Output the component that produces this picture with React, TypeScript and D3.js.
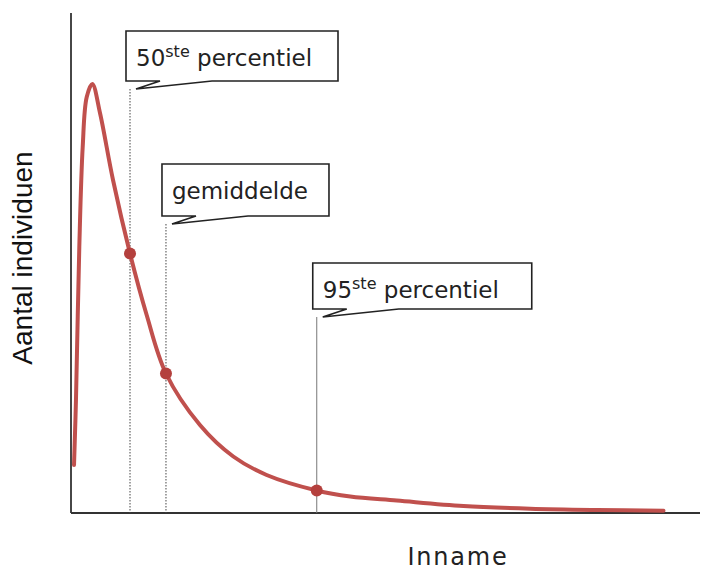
import * as d3 from 'd3';

const W = 702;
const H = 571;

// curve (arbitrary units)
const inname = [0.48, 0.79, 1.32, 1.86, 2.5, 3.39, 4.61, 6.68, 9.38, 12.03, 15.1, 20.5, 25.8, 31.1, 39.07, 44.4, 51.8, 62.4, 73, 83.6, 94.2];
const aantal = [9.6, 22.6, 53.2, 73.2, 83.2, 85.8, 80, 66.6, 51.9, 39.6, 27.9, 17.6, 11.3, 7.6, 4.5, 3.3, 2.5, 1.4, 0.86, 0.6, 0.46];

// the three marked points: 50ste percentiel, gemiddelde, 95ste percentiel
const markInname = [9.38, 15.1, 39.07];
const markAantal = [51.9, 27.9, 4.5];
const markMain = ['50', 'gemiddelde', '95'];
const markSup = ['ste', '', 'ste'];
const markRest = [' percentiel', '', ' percentiel'];

// callout layout (pixels)
const tipY = [89, 224, 317];
const boxW = [212, 167, 219];
const boxH = [50, 52, 46];
const lineDash = ['1.5 1.5', '1.5 1.5', null];

const CURVE = '#c0504d';

export default function App() {
  const x = d3.scaleLinear().domain([0, 100]).range([71, 700]);
  const y = d3.scaleLinear().domain([0, 100]).range([513, 13]);

  const pts = inname.map((d, i) => [d, aantal[i]] as [number, number]);
  const line = d3
    .line<[number, number]>()
    .x((d) => x(d[0]))
    .y((d) => y(d[1]))
    .curve(d3.curveCatmullRom.alpha(0.5));

  const callouts = markInname.map((v, i) => {
    const lx = x(v);
    const tx = lx + 6;
    const ty = tipY[i];
    const left = tx - 10;
    const bottom = ty - 8;
    const top = bottom - boxH[i];
    const right = left + boxW[i];
    const t0 = left + 34;
    const t1 = left + 86;
    const d = `M${left},${top}H${right}V${bottom}H${t1}L${tx},${ty}L${t0},${bottom}H${left}Z`;
    const baseline = top + 35;
    return (
      <g key={i}>
        <line
          x1={lx}
          x2={lx}
          y1={ty}
          y2={y(0)}
          stroke={lineDash[i] ? '#444' : '#777'}
          strokeWidth={1}
          strokeDasharray={lineDash[i] ?? undefined}
        />
        <path d={d} fill="#fff" stroke="#222" strokeWidth={1.6} strokeLinejoin="miter" />
        <text
          x={left + 10}
          y={baseline}
          fontFamily="'DejaVu Sans', Verdana, sans-serif"
          fontSize={23}
          fill="#222"
        >
          {markMain[i]}
          {markSup[i] && (
            <tspan fontSize={16} dy={-9}>
              {markSup[i]}
            </tspan>
          )}
          {markRest[i] && <tspan dy={9}>{markRest[i]}</tspan>}
        </text>
      </g>
    );
  });

  return (
    <svg
      width={W}
      height={H}
      style={{ position: 'absolute', left: 0, top: 0, background: '#fff' }}
    >
      {/* axes */}
      <line x1={x.range()[0]} x2={x.range()[0]} y1={y.range()[1]} y2={y.range()[0]} stroke="#333" strokeWidth={1.8} />
      <line x1={x.range()[0]} x2={x.range()[1]} y1={y.range()[0]} y2={y.range()[0]} stroke="#333" strokeWidth={1.8} />

      {callouts}

      <path d={line(pts)!} fill="none" stroke={CURVE} strokeWidth={4} strokeLinecap="round" />

      {markInname.map((v, i) => (
        <circle key={i} cx={x(v)} cy={y(markAantal[i])} r={6} fill="#b4403d" />
      ))}

      <text
        transform={`translate(32,258) rotate(-90)`}
        textAnchor="middle"
        fontFamily="'Liberation Sans', Arial, sans-serif"
        fontSize={28}
        fill="#111"
      >
        Aantal individuen
      </text>
      <text
        x={458}
        y={565}
        textAnchor="middle"
        fontFamily="'DejaVu Sans', Verdana, sans-serif"
        fontSize={24}
        letterSpacing={1.8}
        fill="#222"
      >
        Inname
      </text>
    </svg>
  );
}
